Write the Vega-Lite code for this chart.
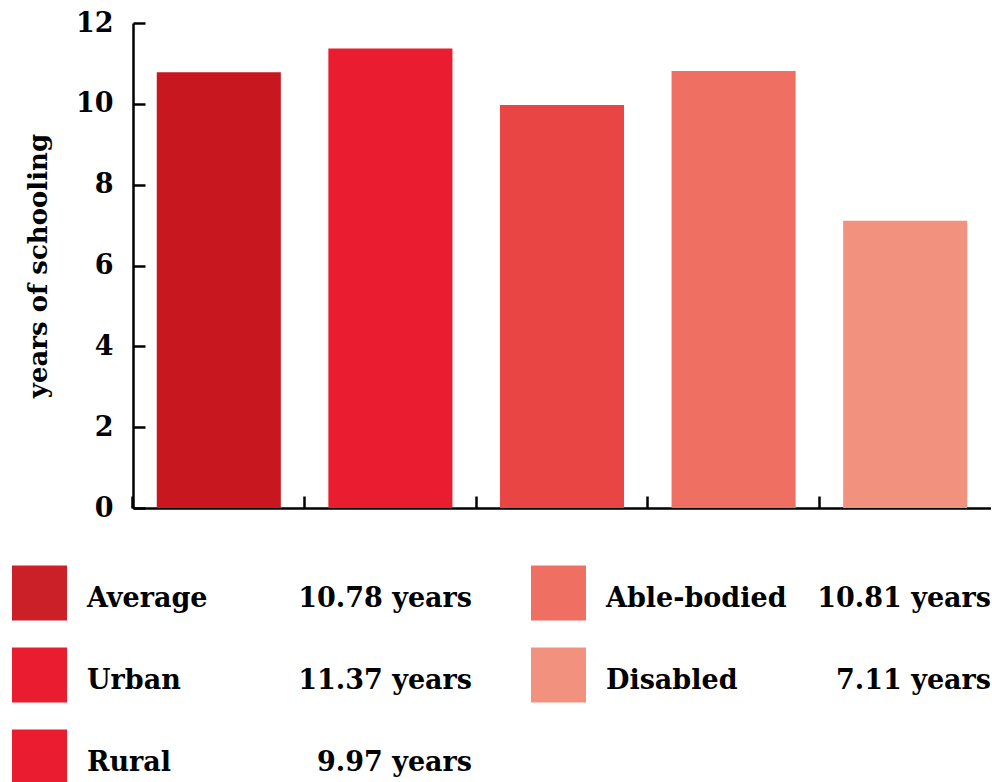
{
  "$schema": "https://vega.github.io/schema/vega-lite/v6.json",
  "padding": {"left": 12, "top": 9, "right": 0, "bottom": 0},
  "config": {
    "view": {"stroke": null},
    "font": "DejaVu Serif"
  },
  "datasets": {
    "bars": [
      {"group": "Average", "value": 10.78},
      {"group": "Urban", "value": 11.37},
      {"group": "Rural", "value": 9.97},
      {"group": "Able-bodied", "value": 10.81},
      {"group": "Disabled", "value": 7.11}
    ],
    "legend": [
      {"label": "Average", "valtext": "10.78 years", "col": 0, "row": 0},
      {"label": "Urban", "valtext": "11.37 years", "col": 0, "row": 1},
      {"label": "Rural", "valtext": "9.97 years", "col": 0, "row": 2},
      {"label": "Able-bodied", "valtext": "10.81 years", "col": 1, "row": 0},
      {"label": "Disabled", "valtext": "7.11 years", "col": 1, "row": 1}
    ]
  },
  "spacing": 44,
  "resolve": {"scale": {"x": "independent", "y": "independent", "color": "independent"}},
  "vconcat": [
    {
      "width": 858,
      "height": 485,
      "data": {"name": "bars"},
      "mark": {"type": "bar"},
      "encoding": {
        "x": {
          "field": "group", "type": "nominal", "sort": null,
          "scale": {"paddingInner": 0.277, "paddingOuter": 0.1385},
          "axis": {
            "title": null, "labels": false, "bandPosition": -0.192,
            "tickSize": -12, "tickWidth": 2.5, "tickColor": "#000",
            "domainColor": "#000", "domainWidth": 2.5
          }
        },
        "y": {
          "field": "value", "type": "quantitative",
          "scale": {"domain": [0, 12], "nice": false},
          "axis": {
            "title": "years of schooling",
            "values": [0, 2, 4, 6, 8, 10, 12],
            "grid": false,
            "tickSize": -12, "tickWidth": 2.5, "tickColor": "#000",
            "domainColor": "#000", "domainWidth": 2.5,
            "labelFont": "DejaVu Serif", "labelFontSize": 27, "labelFontWeight": "bold",
            "labelColor": "#000", "labelPadding": 32,
            "titleFont": "DejaVu Serif", "titleFontSize": 26, "titleFontWeight": "bold",
            "titleColor": "#000", "titlePadding": 24
          }
        },
        "color": {
          "field": "group", "type": "nominal",
          "scale": {
            "domain": ["Average", "Urban", "Rural", "Able-bodied", "Disabled"],
            "range": ["#C8171F", "#EA1C2F", "#EA4545", "#EF6F62", "#F3917F"]
          },
          "legend": null
        }
      }
    },
    {
      "width": 519,
      "height": 164,
      "data": {"name": "legend"},
      "encoding": {
        "x": {"field": "col", "type": "quantitative", "scale": {"domain": [0, 1], "nice": false, "zero": false}, "axis": null},
        "y": {"field": "row", "type": "quantitative", "scale": {"domain": [0, 2], "reverse": true, "nice": false, "zero": false}, "axis": null}
      },
      "layer": [
        {
          "mark": {"type": "square", "size": 3025, "opacity": 1, "filled": true, "xOffset": -93.5},
          "encoding": {
            "color": {
              "field": "label", "type": "nominal",
              "scale": {
                "domain": ["Average", "Urban", "Rural", "Able-bodied", "Disabled"],
                "range": ["#CB2027", "#EA1C2F", "#EA1C2F", "#EF6F62", "#F3917F"]
              },
              "legend": null
            }
          }
        },
        {
          "mark": {"type": "text", "align": "left", "baseline": "alphabetic", "xOffset": -46, "yOffset": 14, "font": "DejaVu Serif", "fontSize": 27, "fontWeight": "bold", "color": "#000"},
          "encoding": {"text": {"field": "label"}}
        },
        {
          "mark": {"type": "text", "align": "right", "baseline": "alphabetic", "xOffset": 339, "yOffset": 14, "font": "DejaVu Serif", "fontSize": 27, "fontWeight": "bold", "color": "#000"},
          "encoding": {"text": {"field": "valtext"}}
        }
      ]
    }
  ]
}
